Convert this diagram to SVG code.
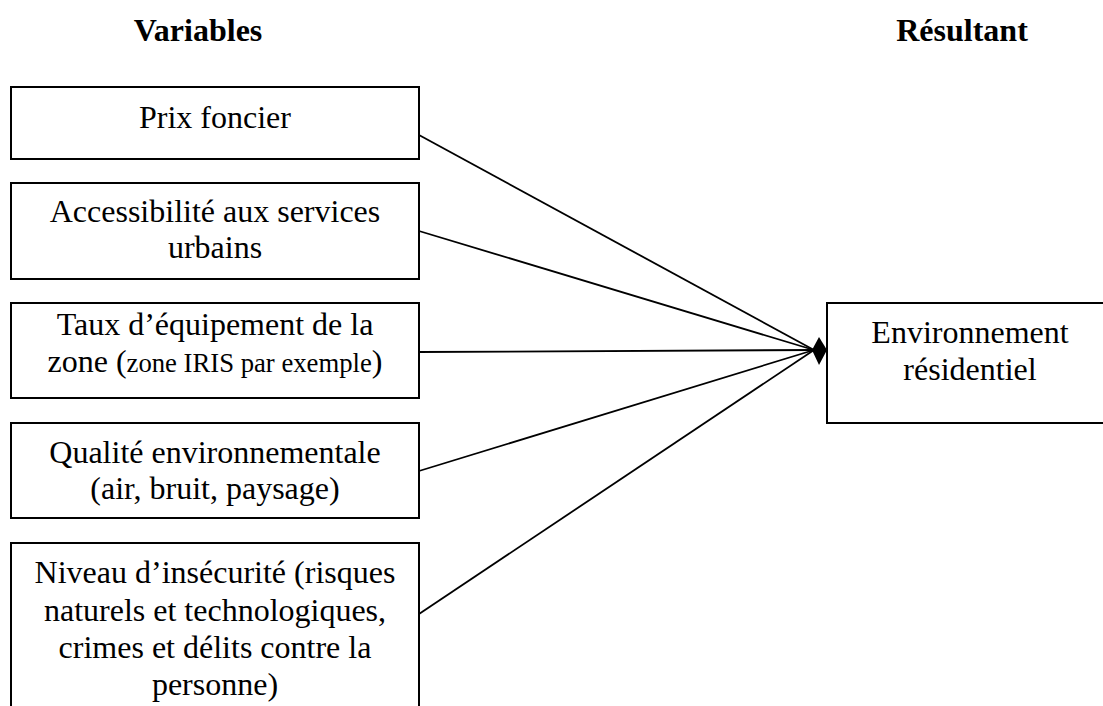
<svg xmlns="http://www.w3.org/2000/svg" width="1103" height="706" viewBox="0 0 1103 706">
<style>
.box{fill:#fff;stroke:#000;stroke-width:2}
.t{font-family:"Liberation Serif","Times New Roman",serif;font-size:32px;fill:#000;text-anchor:middle}
.h{font-family:"Liberation Serif","Times New Roman",serif;font-size:32px;font-weight:bold;fill:#000;text-anchor:middle}
.s{font-size:26.7px}
.ln{stroke:#000;stroke-width:1.8;fill:none}
.hd{fill:#000;stroke:none}
</style>
<rect width="1103" height="706" fill="#fff"/>
<g id="headings">
<text class="h" x="198" y="41">Variables</text>
<text class="h" x="962" y="41">Résultant</text>
</g>
<g id="connectors">
<line class="ln" x1="419" y1="135" x2="814" y2="350"/>
<line class="ln" x1="419" y1="231" x2="814" y2="350"/>
<line class="ln" x1="419" y1="352" x2="814" y2="350"/>
<line class="ln" x1="419" y1="471" x2="814" y2="350"/>
<line class="ln" x1="419" y1="614" x2="814" y2="350"/>
<polygon class="hd" points="812,350 819,337 827,350 819,365"/>
</g>
<g id="n1">
<rect class="box" x="11" y="87" width="408" height="72"/>
<text class="t" x="215" y="128">Prix foncier</text>
</g>
<g id="n2">
<rect class="box" x="11" y="183" width="408" height="96"/>
<text class="t" x="215" y="222">Accessibilité aux services</text>
<text class="t" x="215" y="258">urbains</text>
</g>
<g id="n3">
<rect class="box" x="11" y="303" width="408" height="95"/>
<text class="t" x="215" y="335">Taux d’équipement de la</text>
<text class="t" x="215" y="372">zone (<tspan class="s">zone IRIS par exemple</tspan>)</text>
</g>
<g id="n4">
<rect class="box" x="11" y="423" width="408" height="95"/>
<text class="t" x="215" y="463">Qualité environnementale</text>
<text class="t" x="215" y="499">(air, bruit, paysage)</text>
</g>
<g id="n5">
<rect class="box" x="11" y="543" width="408" height="190"/>
<text class="t" x="215" y="583">Niveau d’insécurité (risques</text>
<text class="t" x="215" y="621">naturels et technologiques,</text>
<text class="t" x="215" y="658">crimes et délits contre la</text>
<text class="t" x="215" y="695">personne)</text>
</g>
<g id="result">
<rect class="box" x="827" y="303" width="300" height="120"/>
<text class="t" x="970" y="343">Environnement</text>
<text class="t" x="970" y="380">résidentiel</text>
</g>
</svg>
